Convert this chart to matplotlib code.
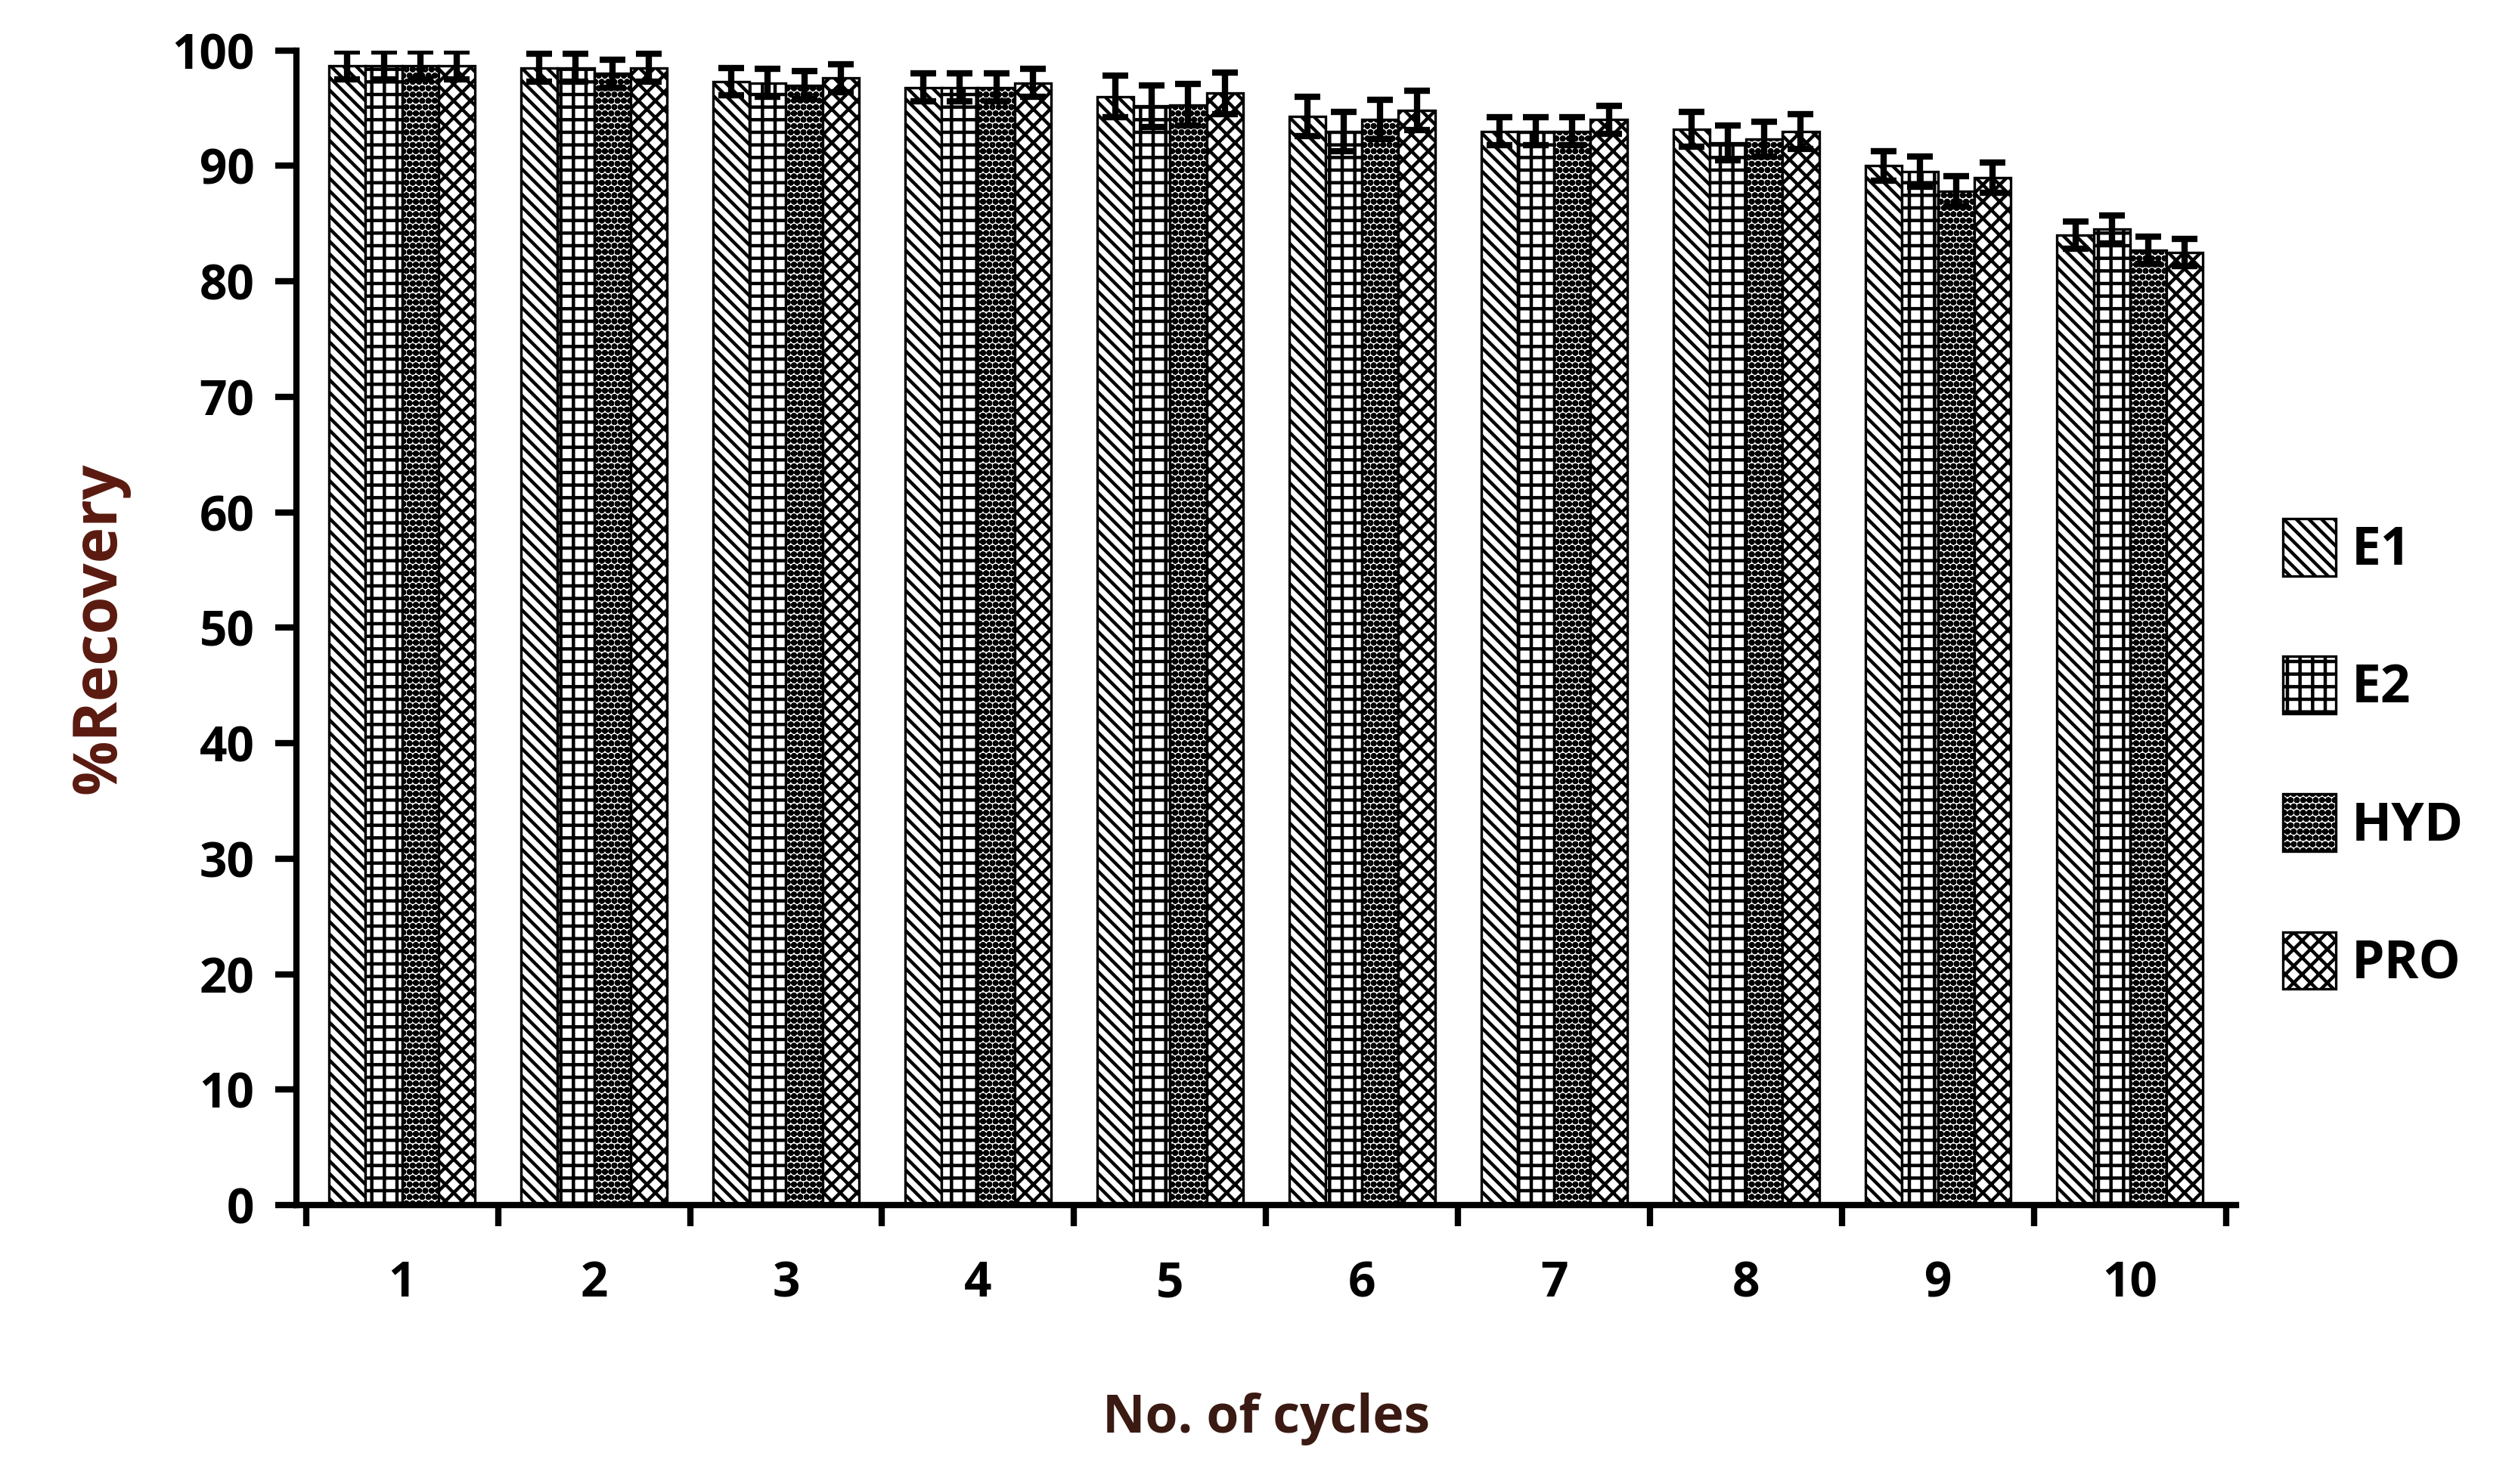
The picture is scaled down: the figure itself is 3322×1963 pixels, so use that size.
import numpy as np
import matplotlib.pyplot as plt
import matplotlib as mpl

cycles = ['1', '2', '3', '4', '5', '6', '7', '8', '9', '10']
e1 = [98.7, 98.5, 97.3, 96.8, 96.0, 94.3, 93.0, 93.2, 90.0, 84.0]
e2 = [98.7, 98.5, 97.2, 96.8, 95.2, 93.0, 93.0, 92.0, 89.5, 84.5]
hyd = [98.7, 98.0, 97.0, 96.8, 95.3, 94.0, 93.0, 92.3, 87.8, 82.7]
pro = [98.7, 98.5, 97.6, 97.2, 96.3, 94.8, 94.0, 93.0, 89.0, 82.5]
err = [1.2, 1.2, 1.2, 1.2, 1.8, 1.7, 1.2, 1.5, 1.3, 1.2]

series = [('E1', e1, '\\\\\\\\'), ('E2', e2, '++'), ('HYD', hyd, 'oooo'), ('PRO', pro, 'xxx')]

mpl.rcParams['font.family'] = ['Open Sans', 'DejaVu Sans']
mpl.rcParams['font.weight'] = 'bold'
mpl.rcParams['hatch.linewidth'] = 1.6

fig = plt.figure(figsize=(16.61, 9.815), dpi=200)
ax = fig.add_axes([0.118, 0.188, 0.772, 0.778])

x = np.arange(len(cycles))
w = 0.19
for i, (name, vals, hatch) in enumerate(series):
    ax.bar(x + (i - 1.5) * w, vals, w, color='white', edgecolor='black',
           hatch=hatch, linewidth=1.2, label=name,
           yerr=err, error_kw=dict(ecolor='black', elinewidth=3, capsize=6, capthick=3))

ax.set_ylim(0, 100)
ax.set_xlim(-0.55, len(cycles) - 0.45)
ax.set_yticks(range(0, 101, 10))
ax.set_xticks(x)
ax.set_xticklabels(cycles)
ax.set_xticks(np.arange(-0.5, len(cycles), 1), minor=True)
ax.tick_params(axis='x', which='major', length=0, pad=26, labelsize=23)
ax.tick_params(axis='x', which='minor', length=10, width=3, direction='out')
ax.tick_params(axis='y', length=10, width=3, direction='out', labelsize=23, pad=10)
for s in ['top', 'right']:
    ax.spines[s].set_visible(False)
for s in ['left', 'bottom']:
    ax.spines[s].set_linewidth(3)

ax.set_xlabel('No. of cycles', fontsize=25, fontweight='bold', color='#3a1a12', labelpad=40)
ax.set_ylabel('%Recovery', fontsize=29, fontweight='bold', color='#5a1a10', labelpad=20)

leg = ax.legend(loc='center left', bbox_to_anchor=(1.0, 0.39), frameon=False,
                fontsize=25, handlelength=1.0, handleheight=1.3, labelspacing=1.5,
                handletextpad=0.3)

fig.savefig('out.png', dpi=200)
